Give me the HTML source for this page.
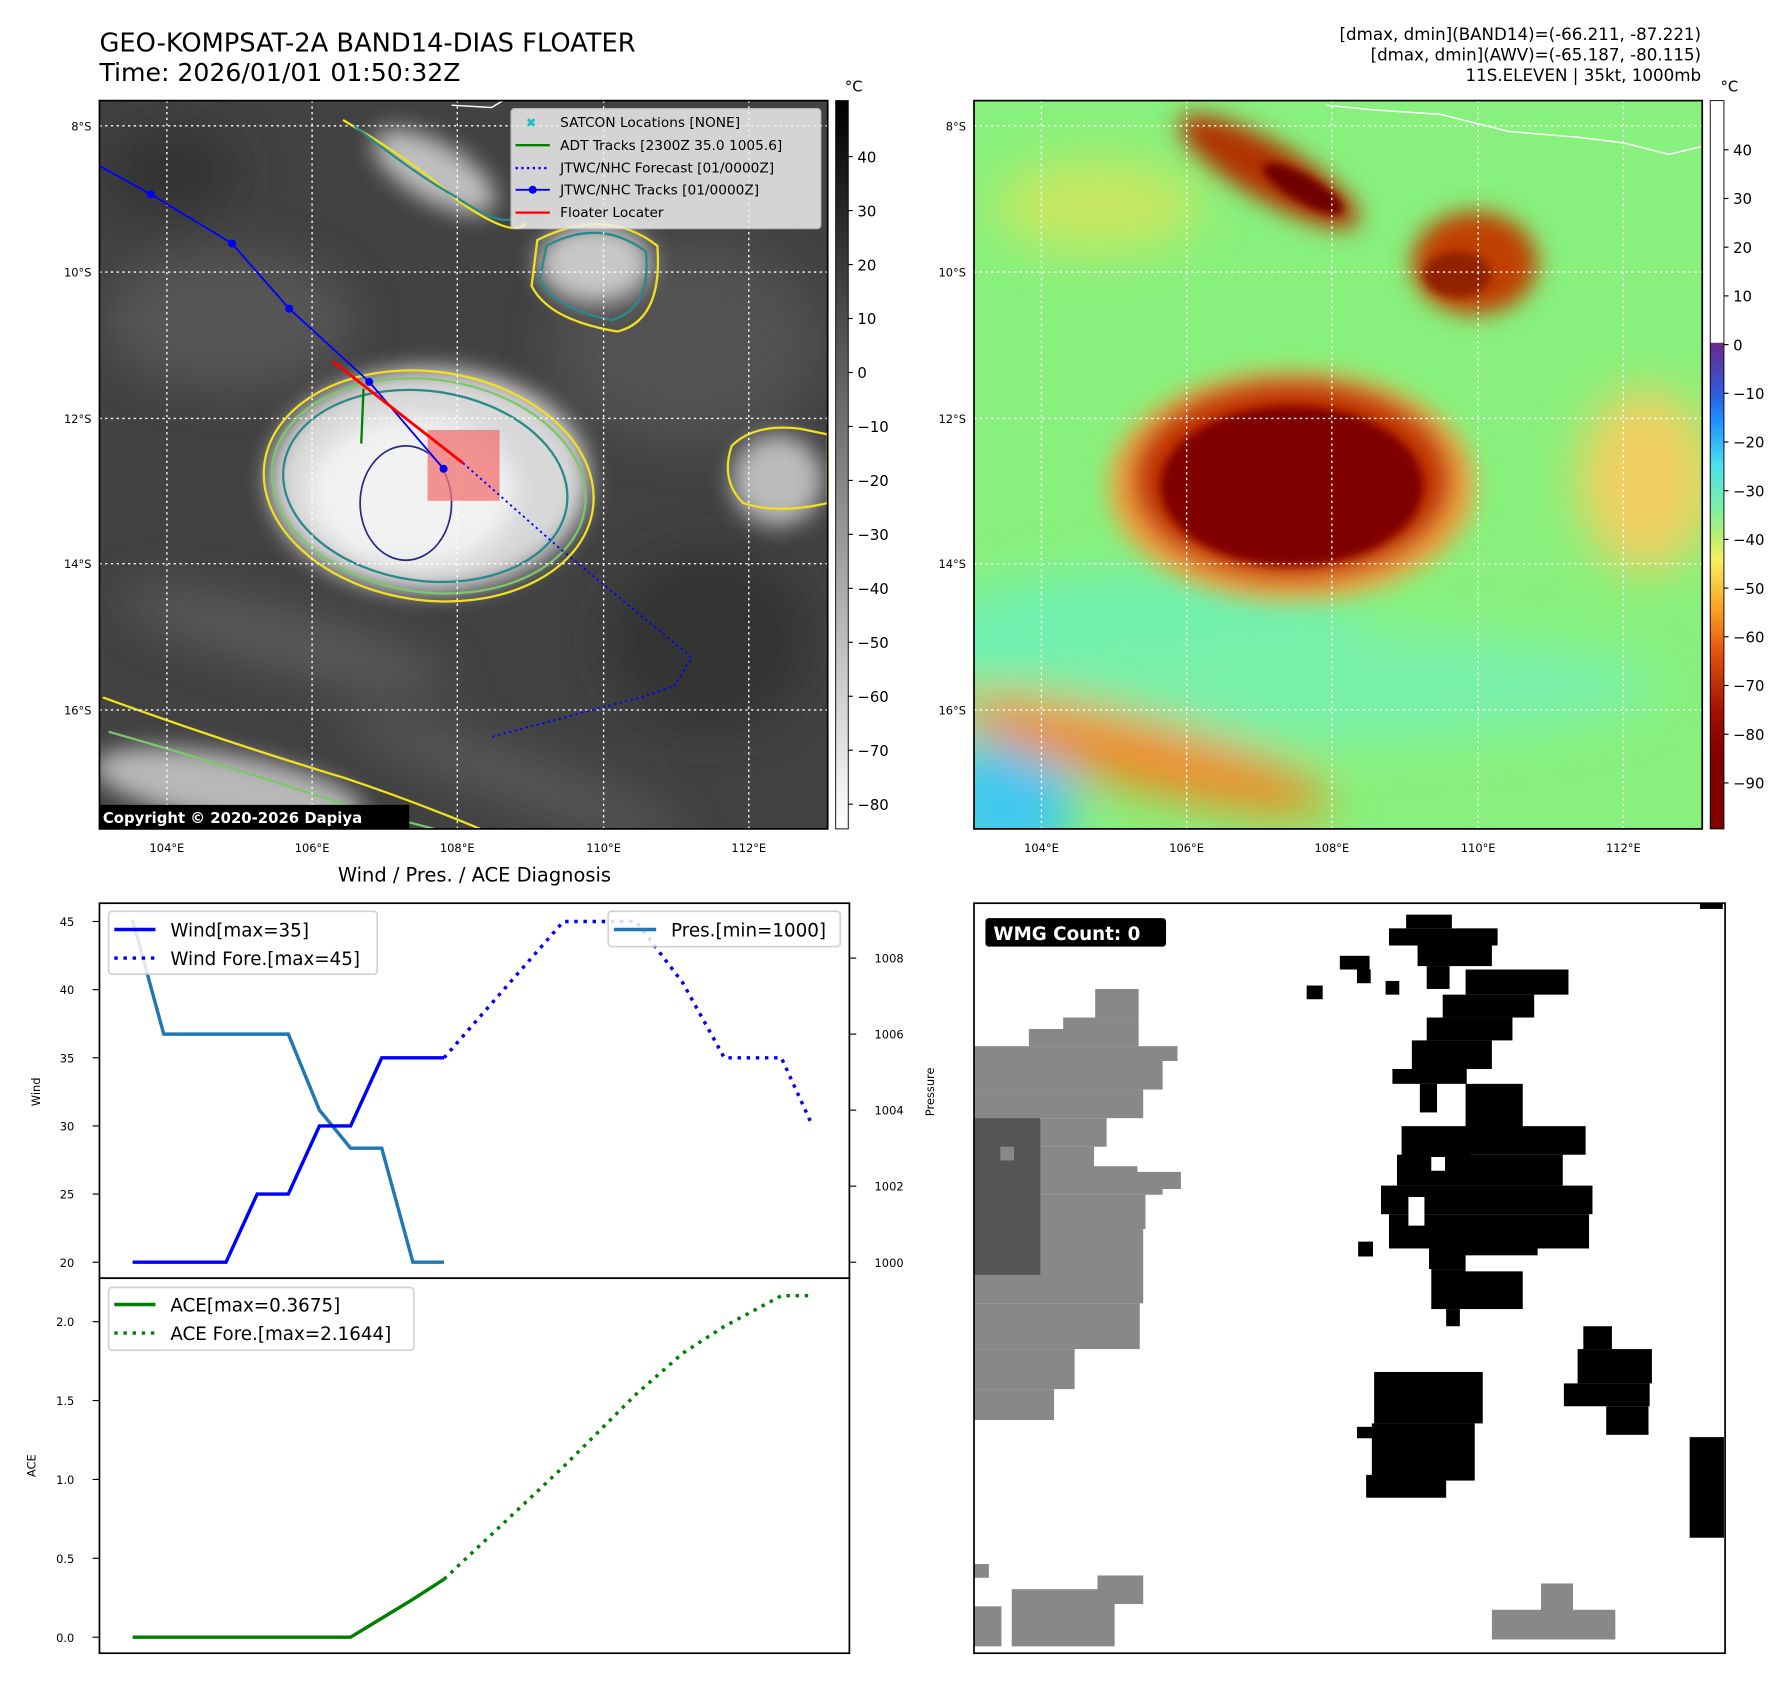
<!DOCTYPE html>
<html><head><meta charset="utf-8">
<style>
html,body{margin:0;padding:0;background:#fff;overflow:hidden;width:1792px;height:1690px}
#root{position:absolute;left:0;top:0;width:1560px;height:1471px;transform-origin:0 0;transform:scale(1.1432,1.1433);font-family:"DejaVu Sans","Liberation Sans",sans-serif}
svg text{font-family:"DejaVu Sans","Liberation Sans",sans-serif}
</style></head><body>
<div id="root">
<svg id="fig" width="1560" height="1471" viewBox="0 0 1560 1471" xmlns="http://www.w3.org/2000/svg">
<defs>
<filter id="b4"><feGaussianBlur stdDeviation="4"/></filter>
<filter id="b10"><feGaussianBlur stdDeviation="10"/></filter>
<filter id="b20"><feGaussianBlur stdDeviation="20"/></filter>
<clipPath id="cl"><rect x="87" y="88" width="637" height="637"/></clipPath>
<clipPath id="cr"><rect x="852" y="88" width="637" height="637"/></clipPath>
<linearGradient id="gcb" x1="0" y1="0" x2="0" y2="1">
<stop offset="0" stop-color="#000"/><stop offset="1" stop-color="#fff"/></linearGradient>
<linearGradient id="jcb" x1="0" y1="0" x2="0" y2="1">
<stop offset="0" stop-color="#fff"/><stop offset="0.332" stop-color="#fff"/>
<stop offset="0.333" stop-color="#6a2a8a"/><stop offset="0.4" stop-color="#2f5ad8"/>
<stop offset="0.44" stop-color="#1e90ff"/><stop offset="0.5" stop-color="#4ee0f0"/>
<stop offset="0.56" stop-color="#7cf0a0"/><stop offset="0.6" stop-color="#b8f070"/>
<stop offset="0.63" stop-color="#f8f060"/><stop offset="0.7" stop-color="#f8a020"/>
<stop offset="0.76" stop-color="#e05010"/><stop offset="0.84" stop-color="#a01000"/>
<stop offset="0.9" stop-color="#800000"/><stop offset="1" stop-color="#800000"/></linearGradient>
</defs>

<text x="87" y="45" font-size="22.5">GEO-KOMPSAT-2A BAND14-DIAS FLOATER</text>
<text x="87" y="71" font-size="22">Time: 2026/01/01 01:50:32Z</text>
<g font-size="14.6" text-anchor="end">
<text x="1488" y="35">[dmax, dmin](BAND14)=(-66.211, -87.221)</text>
<text x="1488" y="53">[dmax, dmin](AWV)=(-65.187, -80.115)</text>
<text x="1488" y="71">11S.ELEVEN | 35kt, 1000mb</text></g>

<!-- LEFT MAP -->
<g clip-path="url(#cl)">
<rect x="87" y="88" width="637" height="637" fill="#424242"/>
<g filter="url(#b20)" opacity="0.85">
<ellipse cx="200" cy="280" rx="110" ry="60" fill="#5a5a5a"/>
<ellipse cx="600" cy="300" rx="120" ry="90" fill="#555"/>
<ellipse cx="250" cy="560" rx="150" ry="25" fill="#606060" transform="rotate(15 250 560)"/>
<ellipse cx="450" cy="680" rx="160" ry="20" fill="#5e5e5e" transform="rotate(20 450 680)"/>
<ellipse cx="150" cy="150" rx="60" ry="40" fill="#333"/>
<ellipse cx="620" cy="560" rx="90" ry="80" fill="#323232"/>
</g>
<g filter="url(#b10)">
<ellipse cx="375" cy="420" rx="140" ry="98" fill="#d8d8d8"/>
<ellipse cx="360" cy="430" rx="90" ry="65" fill="#f2f2f2"/>
<ellipse cx="380" cy="150" rx="60" ry="25" fill="#c0c0c0" transform="rotate(30 380 150)"/>
<ellipse cx="520" cy="230" rx="50" ry="35" fill="#c8c8c8"/>
<ellipse cx="680" cy="420" rx="40" ry="40" fill="#bbb"/>
<ellipse cx="200" cy="690" rx="120" ry="30" fill="#b8b8b8" transform="rotate(10 200 690)"/>
</g>
<g fill="none" stroke-width="2">
<ellipse cx="375" cy="425" rx="145" ry="100" stroke="#f0e020" transform="rotate(8 375 425)"/>
<ellipse cx="375" cy="425" rx="138" ry="93" stroke="#7ac86a" transform="rotate(8 375 425)"/>
<ellipse cx="372" cy="425" rx="125" ry="83" stroke="#2a8a8a" transform="rotate(8 372 425)"/>
<ellipse cx="355" cy="440" rx="40" ry="50" stroke="#2a2a80" stroke-width="1.5"/>
<path d="M300 105 Q360 140 400 175 Q450 210 460 195 M470 210 Q530 180 575 215 Q580 280 540 290 Q480 280 465 250 Z" stroke="#f0e020"/>
<path d="M310 110 Q360 150 395 170 Q440 200 450 190 M478 215 Q525 190 565 220 Q570 270 535 280 Q485 270 472 245 Z" stroke="#2a8a8a"/>
<path d="M640 390 Q660 370 700 375 L724 380 L724 440 Q680 450 650 440 Q630 420 640 390 Z" stroke="#f0e020"/>
<path d="M90 610 Q200 650 300 680 Q360 700 420 725" stroke="#f0e020"/>
<path d="M95 640 Q200 670 290 700 Q340 715 380 725" stroke="#7ac86a"/>
</g>
<g stroke="#fff" stroke-width="1.2" stroke-dasharray="2,3">
<line x1="146" y1="88" x2="146" y2="725"/><line x1="273" y1="88" x2="273" y2="725"/><line x1="400" y1="88" x2="400" y2="725"/><line x1="528" y1="88" x2="528" y2="725"/><line x1="655" y1="88" x2="655" y2="725"/>
<line x1="87" y1="110" x2="724" y2="110"/><line x1="87" y1="238" x2="724" y2="238"/><line x1="87" y1="366" x2="724" y2="366"/><line x1="87" y1="493" x2="724" y2="493"/><line x1="87" y1="621" x2="724" y2="621"/></g>
<path d="M395 92 L430 94 L440 88" stroke="#fff" fill="none" stroke-width="1.3"/>
<rect x="374" y="376" width="63" height="62" fill="#f07070" opacity="0.75"/>
<polyline points="87,145 132,170 203,213 253,270 323,334 388,410" fill="none" stroke="#0000ff" stroke-width="1.6"/>
<g fill="#0000ff"><circle cx="132" cy="170" r="3.5"/><circle cx="203" cy="213" r="3.5"/><circle cx="253" cy="270" r="3.5"/><circle cx="323" cy="334" r="3.5"/><circle cx="388" cy="410" r="3.5"/></g>
<polyline points="405,405 490,480 605,575 590,600 560,610 428,645" fill="none" stroke="#0000ff" stroke-width="1.6" stroke-dasharray="2,3"/>
<line x1="291" y1="316" x2="405" y2="405" stroke="#ff0000" stroke-width="2.5"/>
<polyline points="318,340 316,388 M330,348 329,395 M318,340 345,352" fill="none" stroke="#008000" stroke-width="2"/>
<rect x="85" y="704" width="273" height="22" fill="#000"/>
<text x="90" y="720" font-size="13" font-weight="bold" fill="#fff">Copyright © 2020-2026 Dapiya</text>
</g>
<rect x="87" y="88" width="637" height="637" fill="none" stroke="#000" stroke-width="1.5"/>
<g>
<rect x="447" y="95" width="271" height="105" rx="3" fill="#eee" opacity="0.85" stroke="#ccc"/>
<g font-size="12">
<text x="460" y="111" fill="#18c0c0" font-size="11">✖</text><text x="490" y="111">SATCON Locations [NONE]</text>
<line x1="451" y1="127" x2="481" y2="127" stroke="#008000" stroke-width="2"/><text x="490" y="131">ADT Tracks [2300Z 35.0 1005.6]</text>
<line x1="451" y1="147" x2="481" y2="147" stroke="#00f" stroke-width="2" stroke-dasharray="2,3"/><text x="490" y="151">JTWC/NHC Forecast [01/0000Z]</text>
<line x1="451" y1="166" x2="481" y2="166" stroke="#00f" stroke-width="1.6"/><circle cx="466" cy="166" r="3.5" fill="#00f"/><text x="490" y="170">JTWC/NHC Tracks [01/0000Z]</text>
<line x1="451" y1="186" x2="481" y2="186" stroke="#f00" stroke-width="2"/><text x="490" y="190">Floater Locater</text></g></g>

<g font-size="10">
<g text-anchor="end"><text x="80" y="114">8°S</text><text x="80" y="242">10°S</text><text x="80" y="370">12°S</text><text x="80" y="497">14°S</text><text x="80" y="625">16°S</text></g>
<g text-anchor="middle"><text x="146" y="745">104°E</text><text x="273" y="745">106°E</text><text x="400" y="745">108°E</text><text x="528" y="745">110°E</text><text x="655" y="745">112°E</text></g></g>

<g>
<rect x="731" y="88" width="11" height="637" fill="url(#gcb)" stroke="#000" stroke-width="0.8"/>
<text x="739" y="80" font-size="13">°C</text>
<g font-size="13" id="lcb"></g></g>

<!-- RIGHT MAP -->
<g clip-path="url(#cr)">
<rect x="852" y="88" width="637" height="637" fill="#88f07c"/>
<g filter="url(#b20)">
<ellipse cx="1000" cy="560" rx="200" ry="60" fill="#70f0b0"/>
<ellipse cx="1150" cy="600" rx="300" ry="50" fill="#78f0a8"/>
<ellipse cx="880" cy="700" rx="60" ry="60" fill="#40c8f0"/>
<ellipse cx="1440" cy="420" rx="60" ry="80" fill="#f0d060"/>
<ellipse cx="960" cy="180" rx="90" ry="40" fill="#c8e860"/>
<ellipse cx="1000" cy="660" rx="170" ry="30" fill="#f08a20" transform="rotate(15 1000 660)"/>
</g>
<g filter="url(#b10)">
<ellipse cx="1130" cy="425" rx="160" ry="100" fill="#f0a040"/>
<ellipse cx="1130" cy="420" rx="140" ry="88" fill="#c03000"/>
<ellipse cx="1290" cy="230" rx="55" ry="45" fill="#c04000"/>
<ellipse cx="1110" cy="150" rx="90" ry="25" fill="#b03000" transform="rotate(30 1110 150)"/>
</g>
<g filter="url(#b4)">
<ellipse cx="1130" cy="425" rx="115" ry="70" fill="#800000"/>
<ellipse cx="1275" cy="240" rx="30" ry="20" fill="#902000"/>
<ellipse cx="1140" cy="165" rx="40" ry="12" fill="#700000" transform="rotate(30 1140 165)"/>
</g>
<g stroke="#fff" stroke-width="1.2" stroke-dasharray="2,3">
<line x1="911" y1="88" x2="911" y2="725"/><line x1="1038" y1="88" x2="1038" y2="725"/><line x1="1165" y1="88" x2="1165" y2="725"/><line x1="1293" y1="88" x2="1293" y2="725"/><line x1="1420" y1="88" x2="1420" y2="725"/>
<line x1="852" y1="110" x2="1489" y2="110"/><line x1="852" y1="238" x2="1489" y2="238"/><line x1="852" y1="366" x2="1489" y2="366"/><line x1="852" y1="493" x2="1489" y2="493"/><line x1="852" y1="621" x2="1489" y2="621"/></g>
<path d="M1160 92 L1200 96 L1260 100 L1320 115 L1380 120 L1420 125 L1460 135 L1489 128" stroke="#fff" fill="none" stroke-width="1.3"/>
</g>
<rect x="852" y="88" width="637" height="637" fill="none" stroke="#000" stroke-width="1.5"/>
<g font-size="10">
<g text-anchor="end"><text x="845" y="114">8°S</text><text x="845" y="242">10°S</text><text x="845" y="370">12°S</text><text x="845" y="497">14°S</text><text x="845" y="625">16°S</text></g>
<g text-anchor="middle"><text x="911" y="745">104°E</text><text x="1038" y="745">106°E</text><text x="1165" y="745">108°E</text><text x="1293" y="745">110°E</text><text x="1420" y="745">112°E</text></g></g>
<g>
<rect x="1496" y="88" width="12" height="637" fill="url(#jcb)" stroke="#000" stroke-width="0.8"/>
<text x="1505" y="80" font-size="13">°C</text>
<g font-size="13" id="rcb"></g></g>

<!-- WIND / PRES / ACE -->
<text x="415" y="771" font-size="17" text-anchor="middle">Wind / Pres. / ACE Diagnosis</text>
<g id="wind-chart">
<rect x="87" y="790" width="656" height="328" fill="#fff" stroke="#000" stroke-width="1.5"/>
<text transform="translate(35 955) rotate(-90)" font-size="10" text-anchor="middle">Wind</text>
<text transform="translate(817 955) rotate(-90)" font-size="10" text-anchor="middle">Pressure</text>
<g id="wind-marks"></g>
</g>
<g id="ace-chart">
<rect x="87" y="1118" width="656" height="328" fill="#fff" stroke="#000" stroke-width="1.5"/>
<text transform="translate(31 1282) rotate(-90)" font-size="10" text-anchor="middle">ACE</text>
<g id="ace-marks"></g>
</g>
<g>
<rect x="95" y="797" width="235" height="55" rx="3" fill="#fff" opacity="0.85" stroke="#ccc" stroke-width="1.5"/>
<line x1="100" y1="813" x2="136" y2="813" stroke="#00f" stroke-width="3"/><text x="149" y="819" font-size="16">Wind[max=35]</text>
<line x1="100" y1="838" x2="136" y2="838" stroke="#00f" stroke-width="3" stroke-dasharray="3,5"/><text x="149" y="844" font-size="16">Wind Fore.[max=45]</text></g>
<g>
<rect x="532" y="797" width="203" height="31" rx="3" fill="#fff" opacity="0.85" stroke="#ccc" stroke-width="1.5"/>
<line x1="537" y1="813" x2="574" y2="813" stroke="#1f77b4" stroke-width="3"/><text x="587" y="819" font-size="16">Pres.[min=1000]</text></g>
<g>
<rect x="95" y="1126" width="267" height="55" rx="3" fill="#fff" opacity="0.85" stroke="#ccc" stroke-width="1.5"/>
<line x1="100" y1="1141" x2="136" y2="1141" stroke="#008000" stroke-width="3"/><text x="149" y="1147" font-size="16">ACE[max=0.3675]</text>
<line x1="100" y1="1166" x2="136" y2="1166" stroke="#008000" stroke-width="3" stroke-dasharray="3,5"/><text x="149" y="1172" font-size="16">ACE Fore.[max=2.1644]</text></g>

<!-- WMG panel -->
<g>
<rect x="852" y="790" width="657" height="656" fill="#fff"/>
<g fill="#888">
<rect x="930" y="890" width="66" height="25"/><rect x="958" y="865" width="38" height="25"/><rect x="900" y="900" width="95" height="15"/>
<rect x="852" y="915" width="178" height="13"/><rect x="852" y="928" width="165" height="25"/><rect x="852" y="953" width="148" height="25"/>
<rect x="852" y="978" width="116" height="25"/><rect x="852" y="1003" width="105" height="30"/><rect x="940" y="1020" width="55" height="15"/><rect x="990" y="1025" width="43" height="15"/>
<rect x="852" y="1033" width="165" height="12"/><rect x="852" y="1045" width="150" height="30"/><rect x="852" y="1075" width="148" height="65"/>
<rect x="852" y="1140" width="145" height="40"/><rect x="852" y="1180" width="88" height="35"/><rect x="852" y="1215" width="70" height="27"/>
<rect x="885" y="1390" width="90" height="50"/><rect x="960" y="1378" width="40" height="25"/><rect x="852" y="1405" width="24" height="35"/><rect x="852" y="1368" width="13" height="12"/>
<rect x="1305" y="1408" width="108" height="26"/><rect x="1348" y="1385" width="28" height="25"/></g>
<rect x="852" y="978" width="58" height="137" fill="#555"/><rect x="875" y="1003" width="12" height="12" fill="#888"/>
<g fill="#000">
<rect x="1230" y="800" width="40" height="12"/><rect x="1215" y="812" width="95" height="15"/><rect x="1240" y="825" width="65" height="20"/><rect x="1248" y="845" width="20" height="20"/>
<rect x="1172" y="836" width="26" height="12"/><rect x="1187" y="848" width="12" height="12"/><rect x="1143" y="862" width="14" height="12"/><rect x="1212" y="858" width="12" height="12"/>
<rect x="1282" y="848" width="90" height="22"/><rect x="1262" y="870" width="80" height="20"/><rect x="1248" y="890" width="75" height="20"/><rect x="1235" y="910" width="70" height="25"/><rect x="1218" y="935" width="65" height="13"/>
<rect x="1242" y="948" width="15" height="25"/><rect x="1282" y="948" width="50" height="40"/><rect x="1282" y="985" width="105" height="25"/><rect x="1226" y="985" width="60" height="30"/>
<rect x="1222" y="1010" width="145" height="27"/><rect x="1208" y="1037" width="185" height="25"/><rect x="1215" y="1062" width="175" height="30"/><rect x="1250" y="1090" width="95" height="20"/>
<rect x="1252" y="1110" width="80" height="35"/><rect x="1188" y="1086" width="13" height="13"/><rect x="1265" y="1145" width="12" height="15"/>
<rect x="1202" y="1200" width="95" height="45"/><rect x="1200" y="1245" width="90" height="50"/><rect x="1195" y="1290" width="70" height="20"/><rect x="1187" y="1248" width="15" height="10"/>
<rect x="1385" y="1160" width="25" height="20"/><rect x="1380" y="1180" width="65" height="30"/><rect x="1368" y="1210" width="75" height="20"/><rect x="1405" y="1230" width="37" height="25"/>
<rect x="1478" y="1257" width="30" height="88"/><rect x="1487" y="790" width="20" height="5"/></g>
<g fill="#fff"><rect x="1252" y="1012" width="12" height="12"/><rect x="1232" y="1047" width="14" height="25"/><rect x="1282" y="1098" width="65" height="14"/></g>
<rect x="852" y="790" width="657" height="656" fill="none" stroke="#000" stroke-width="1.5"/>
<rect x="862" y="803" width="158" height="25" rx="3" fill="#000"/>
<text x="869" y="822" font-size="16" font-weight="bold" fill="#fff">WMG Count: 0</text>
</g>
</svg>
</div>
<script>
// ---- chart data ----
const obsHours = [0,6,12,18,24,30,36,42,48,54,60];
const windObs = [20,20,20,20,25,25,30,30,35,35,35];
const presObs = [1009,1006,1006,1006,1006,1006,1004,1003,1003,1000,1000];
const aceObs = [0,0,0,0,0,0,0,0,0.12,0.24,0.3675];
const foreHours = [60,83,97,106,114,125,131];
const windFore = [35,45,45,40.5,35,35,30];
const aceFore = [0.3675,1.08,1.54,1.80,1.97,2.1644,2.1644];
const windTicks = [20,25,30,35,40,45];
const presTicks = [1000,1002,1004,1006,1008];
const aceTicks = [0.0,0.5,1.0,1.5,2.0];
const irTicks = [40,30,20,10,0,-10,-20,-30,-40,-50,-60,-70,-80];
const awvTicks = [40,30,20,10,0,-10,-20,-30,-40,-50,-60,-70,-80,-90];

const NS='http://www.w3.org/2000/svg';
const xH = h => 116 + h*4.54;
const yW = v => 1104 - (v-20)*11.92;
const yP = p => 1104 - (p-1000)*33.25;
const yA = a => 1432 - a*138;
const yIR = t => 137 + (40-t)*4.72;
const yAWV = t => 131 + (40-t)*4.26;
function mk(tag, attrs, parent){const e=document.createElementNS(NS,tag);for(const k in attrs)e.setAttribute(k,attrs[k]);parent.appendChild(e);return e;}
function pts(xs, ys, fx, fy){return xs.map((x,i)=>fx(x)+','+fy(ys[i])).join(' ');}

const wm=document.getElementById('wind-marks');
windTicks.forEach(v=>{const y=yW(v);
 mk('line',{x1:81,y1:y,x2:87,y2:y,stroke:'#000'},wm);
 const t=mk('text',{x:65,y:y+4,'font-size':10,'text-anchor':'end'},wm);t.textContent=v;
 
 });
presTicks.forEach(v=>{const y=yP(v);
 mk('line',{x1:743,y1:y,x2:749,y2:y,stroke:'#000'},wm);
 const t=mk('text',{x:765,y:y+4,'font-size':10},wm);t.textContent=v;
 
 });
let p=mk('polyline',{points:pts(obsHours,presObs,xH,yP),fill:'none',stroke:'#1f77b4','stroke-width':3},wm);


p=mk('polyline',{points:pts(obsHours,windObs,xH,yW),fill:'none',stroke:'#0000ff','stroke-width':3},wm);


p=mk('polyline',{points:pts(foreHours,windFore,xH,yW),fill:'none',stroke:'#0000ff','stroke-width':3,'stroke-dasharray':'3,5'},wm);



const am=document.getElementById('ace-marks');
aceTicks.forEach(v=>{const y=yA(v);
 mk('line',{x1:81,y1:y,x2:87,y2:y,stroke:'#000'},am);
 const t=mk('text',{x:65,y:y+4,'font-size':10,'text-anchor':'end'},am);t.textContent=v.toFixed(1);
 
 });
p=mk('polyline',{points:pts(obsHours,aceObs,xH,yA),fill:'none',stroke:'#008000','stroke-width':3},am);


p=mk('polyline',{points:pts(foreHours,aceFore,xH,yA),fill:'none',stroke:'#008000','stroke-width':3,'stroke-dasharray':'3,5'},am);



const lcb=document.getElementById('lcb');
irTicks.forEach(v=>{const y=yIR(v);
 mk('line',{x1:742,y1:y,x2:746,y2:y,stroke:'#000'},lcb);
 const t=mk('text',{x:750,y:y+5},lcb);t.textContent=v<0?'\u2212'+(-v):v;
 
 });
const rcb=document.getElementById('rcb');
awvTicks.forEach(v=>{const y=yAWV(v);
 mk('line',{x1:1508,y1:y,x2:1512,y2:y,stroke:'#000'},rcb);
 const t=mk('text',{x:1516,y:y+5},rcb);t.textContent=v<0?'\u2212'+(-v):v;
 
 });
</script>
</body></html>
